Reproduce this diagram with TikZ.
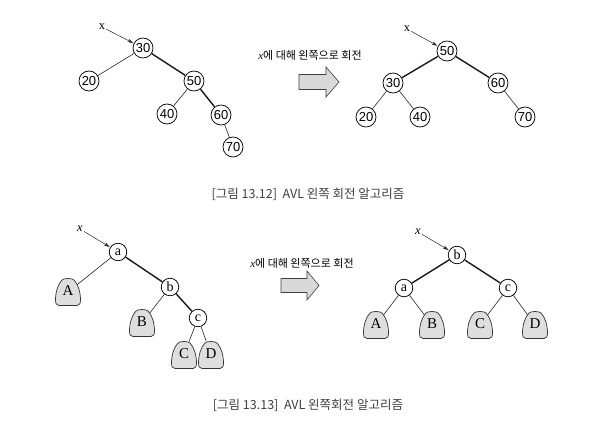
\documentclass[tikz,border=0pt]{standalone}
\usepackage{fontspec}
\setmainfont{Liberation Serif}
\newfontfamily\numfont{Liberation Sans}
\newfontfamily\kr{Noto Sans CJK KR}
\usetikzlibrary{arrows.meta}
\begin{document}
\begin{tikzpicture}[x=1pt,y=-1pt,
  numnode/.style={circle,draw,line width=0.75pt,minimum size=20pt,inner sep=0pt,font=\numfont\fontsize{13}{14}\selectfont},
  letnode/.style={circle,draw,line width=0.75pt,minimum size=17.5pt,inner sep=0pt,font=\fontsize{14}{15}\selectfont},
  subnode/.style={rectangle,draw=none,minimum width=14pt,minimum height=27pt,inner sep=0pt},
  thin edge/.style={draw=black!85,line width=0.6pt},
  thick edge/.style={draw=black!90,line width=1.4pt},
  ptr/.style={draw=black!85,line width=0.5pt,-{Stealth[length=6pt,width=3.5pt]},shorten >=0.5pt},
  xlab/.style={inner sep=1pt,font=\fontsize{12.5}{13}\selectfont},
  blob/.style={draw=black!80,line width=0.7pt,fill=black!13},
  blockarrow/.style={draw=black!75,line width=0.6pt,fill=black!15},
  rotlab/.style={inner sep=0pt,font=\fontsize{11}{13}\selectfont},
  caption/.style={inner sep=0pt,text=black!75,font=\kr\fontsize{12.5}{14}\selectfont}
]
\useasboundingbox (0,0) rectangle (602,444);
\fill[white] (0,0) rectangle (602,444);

% ---------- Figure 13.12 left ----------
\node[numnode] (t30) at (143,48) {30};
\node[numnode] (t20) at (89,81) {20};
\node[numnode] (t50) at (194,81) {50};
\node[numnode] (t40) at (167,114) {40};
\node[numnode] (t60) at (221,115) {60};
\node[numnode] (t70) at (233,147) {70};
\node[xlab] (tx1) at (102,27) {x};
\draw[thin edge] (t30) -- (t20);
\draw[thick edge] (t30) -- (t50);
\draw[thin edge] (t50) -- (t40);
\draw[thick edge] (t50) -- (t60);
\draw[thin edge] (t60) -- (t70);
\draw[ptr] (tx1) -- (t30);

% ---------- rotate label and arrow ----------
\node[rotlab] (rl1) at (310,55) {\itshape x\kr\upshape 에 대해 왼쪽으로 회전};
\path[blockarrow] (299,74.5) -- (326,74.5) -- (326,67) -- (339,82) -- (326,97) -- (326,89.5) -- (299,89.5) -- cycle;

% ---------- Figure 13.12 right ----------
\node[numnode] (r50) at (447,51) {50};
\node[numnode] (r30) at (393,83) {30};
\node[numnode] (r60) at (498,83) {60};
\node[numnode] (r20) at (366,117) {20};
\node[numnode] (r40) at (420,117) {40};
\node[numnode] (r70) at (525,117) {70};
\node[xlab] (tx2) at (407,29) {x};
\draw[thick edge] (r50) -- (r30);
\draw[thick edge] (r50) -- (r60);
\draw[thin edge] (r30) -- (r20);
\draw[thin edge] (r30) -- (r40);
\draw[thin edge] (r60) -- (r70);
\draw[ptr] (tx2) -- (r50);

\node[caption] (cap1) at (308,194) {[그림 13.12]~ AVL 왼쪽 회전 알고리즘};

% ---------- Figure 13.13 left ----------
\node[letnode] (la) at (118,252) {a};
\node[letnode] (lb) at (170,287) {b};
\node[letnode] (lc) at (198,318) {c};
\node[subnode] (lA) at (68,292) {};
\node[subnode] (lB) at (142,323) {};
\node[subnode] (lC) at (184,355) {};
\node[subnode] (lD) at (211,355) {};
\node[xlab] (bx1) at (80,229) {\itshape x};
\draw[thin edge] (la) -- (lA);
\draw[thick edge] (la) -- (lb);
\draw[thin edge] (lb) -- (lB);
\draw[thick edge] (lb) -- (lc);
\draw[thin edge] (lc) -- (lC);
\draw[thin edge] (lc) -- (lD);
\draw[ptr] (bx1) -- (la);

% ---------- rotate label and arrow ----------
\node[rotlab] (rl2) at (302,263) {\itshape x\kr\upshape 에 대해 왼쪽으로 회전};
\path[blockarrow] (281,278.5) -- (307,278.5) -- (307,271) -- (319,285.5) -- (307,300) -- (307,292.5) -- (281,292.5) -- cycle;

% ---------- Figure 13.13 right ----------
\node[letnode] (rb) at (457,255) {b};
\node[letnode] (ra) at (404,288) {a};
\node[letnode] (rc) at (508,288) {c};
\node[subnode] (rA) at (376,325) {};
\node[subnode] (rB) at (432,325) {};
\node[subnode] (rC) at (480,325) {};
\node[subnode] (rD) at (535,325) {};
\node[xlab] (bx2) at (418,232) {\itshape x};
\draw[thick edge] (rb) -- (ra);
\draw[thick edge] (rb) -- (rc);
\draw[thin edge] (ra) -- (rA);
\draw[thin edge] (ra) -- (rB);
\draw[thin edge] (rc) -- (rC);
\draw[thin edge] (rc) -- (rD);
\draw[ptr] (bx2) -- (rb);

% subtree blobs
\foreach \n/\t in {lA/A,lB/B,lC/C,lD/D,rA/A,rB/B,rC/C,rD/D}{
  \path[blob,shift={(\n.center)}] (-9,13.5) -- (9,13.5)
    .. controls (11.5,13.5) and (12.5,11.5) .. (12.5,8)
    .. controls (12.5,0) and (10,-8) .. (6,-12)
    .. controls (4,-14) and (-4,-14) .. (-6,-12)
    .. controls (-10,-8) and (-12.5,0) .. (-12.5,8)
    .. controls (-12.5,11.5) and (-11.5,13.5) .. (-9,13.5) -- cycle;
  \node[font=\fontsize{15}{16}\selectfont,inner sep=0pt] at ([yshift=1pt]\n.center) {\t};
}

\node[caption] (cap2) at (308,405) {[그림 13.13]~ AVL 왼쪽회전 알고리즘};
\end{tikzpicture}
\end{document}
